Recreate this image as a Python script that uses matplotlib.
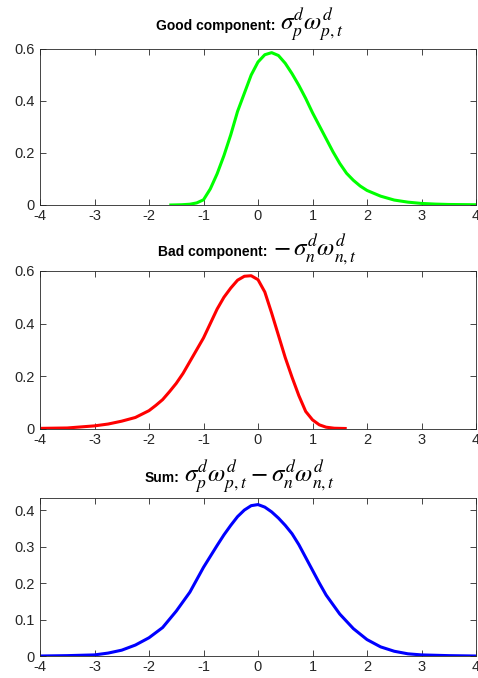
import matplotlib
matplotlib.use("Agg")
import matplotlib.pyplot as plt
from matplotlib.ticker import FuncFormatter

plt.rcParams["font.family"] = ["Liberation Sans", "DejaVu Sans"]
plt.rcParams["mathtext.fontset"] = "stix"
plt.rcParams["axes.unicode_minus"] = False

# good component (green)
x_good = [-1.6, -1.4, -1.25, -1.125, -1.0, -0.875, -0.75, -0.625, -0.5, -0.375,
          -0.25, -0.125, 0.0, 0.125, 0.25, 0.375, 0.5, 0.625, 0.75, 0.875, 1.0,
          1.125, 1.25, 1.375, 1.5, 1.625, 1.75, 1.875, 2.0, 2.25, 2.5, 2.75, 3.0,
          3.25, 3.5, 4.0]
y_good = [0.0, 0.001, 0.003, 0.008, 0.02, 0.062, 0.12, 0.19, 0.27, 0.36,
          0.43, 0.50, 0.55, 0.578, 0.586, 0.575, 0.545, 0.505, 0.46, 0.41, 0.355,
          0.305, 0.255, 0.205, 0.16, 0.122, 0.095, 0.073, 0.056, 0.034, 0.019, 0.011,
          0.006, 0.0035, 0.002, 0.001]

# bad component (red)
x_bad = [-4.0, -3.5, -3.0, -2.75, -2.5, -2.25, -2.0, -1.875, -1.75, -1.625, -1.5,
         -1.375, -1.25, -1.125, -1.0, -0.875, -0.75, -0.625, -0.5, -0.375, -0.25,
         -0.125, 0.0, 0.125, 0.25, 0.375, 0.5, 0.625, 0.75, 0.875, 1.0, 1.125,
         1.25, 1.4, 1.6]
y_bad = [0.0005, 0.002, 0.01, 0.017, 0.028, 0.042, 0.068, 0.088, 0.11, 0.14, 0.172,
         0.21, 0.255, 0.30, 0.345, 0.40, 0.455, 0.50, 0.535, 0.565, 0.58,
         0.582, 0.567, 0.52, 0.44, 0.355, 0.27, 0.195, 0.125, 0.065, 0.033, 0.014,
         0.005, 0.001, 0.0]

# sum (blue)
x_sum = [-4.0, -3.5, -3.0, -2.75, -2.5, -2.25, -2.0, -1.75, -1.5, -1.25, -1.0,
         -0.875, -0.75, -0.625, -0.5, -0.375, -0.25, -0.125, 0.0, 0.125, 0.25,
         0.375, 0.5, 0.625, 0.75, 0.875, 1.0, 1.125, 1.25, 1.5, 1.75, 2.0, 2.25,
         2.5, 2.75, 3.0, 3.5, 4.0]
y_sum = [0.0, 0.001, 0.003, 0.008, 0.016, 0.03, 0.05, 0.078, 0.123, 0.175, 0.243,
         0.273, 0.303, 0.332, 0.358, 0.382, 0.40, 0.412, 0.415, 0.408, 0.395,
         0.378, 0.358, 0.335, 0.305, 0.27, 0.235, 0.20, 0.167, 0.115, 0.075, 0.045,
         0.025, 0.013, 0.006, 0.003, 0.001, 0.0]

fig = plt.figure(figsize=(4.78, 6.78), dpi=100)

W = 478.0
H = 678.0


def make_axes(top, bottom):
    return fig.add_axes([40 / W, 1 - bottom / H, 436 / W, (bottom - top) / H])


ax1 = make_axes(49, 205)
ax2 = make_axes(271, 428.5)
ax3 = make_axes(498, 656)

ax1.plot(x_good, y_good, color="#00ff00", lw=2.2)
ax2.plot(x_bad, y_bad, color="#ff0000", lw=2.2)
ax3.plot(x_sum, y_sum, color="#0000ff", lw=2.2)

fmt = FuncFormatter(lambda v, p: "%g" % round(v, 3))

for ax, yt, ytop in [(ax1, [0, 0.2, 0.4, 0.6], 0.6),
                     (ax2, [0, 0.2, 0.4, 0.6], 0.6),
                     (ax3, [0, 0.1, 0.2, 0.3, 0.4], 0.433)]:
    ax.set_xlim(-4, 4)
    ax.set_ylim(0, ytop)
    ax.set_xticks(range(-4, 5))
    ax.set_yticks(yt)
    ax.xaxis.set_major_formatter(fmt)
    ax.yaxis.set_major_formatter(fmt)
    ax.tick_params(direction="in", top=True, right=True, length=4, width=0.6,
                   labelsize=10.5, colors="#262626")
    ax.tick_params(axis="x", pad=3)
    ax.tick_params(axis="y", pad=4)
    for s in ax.spines.values():
        s.set_color("#262626")
        s.set_linewidth(0.6)


def title(ax, split, yfrac, label, math):
    ax.text(split, yfrac, label, transform=ax.transAxes, ha="right", va="baseline",
            fontsize=10, fontweight="bold", color="black")
    ax.text(split + 0.012, yfrac, math, transform=ax.transAxes, ha="left",
            va="baseline", fontsize=18, color="black")


title(ax1, (275 - 40) / 436, 1 + 19 / 156, "Good component:",
      r"$\sigma_p^d\omega_{p,t}^d$")
title(ax2, (268 - 40) / 436, 1 + 15 / 157.5, "Bad component:",
      r"$-\,\sigma_n^d\omega_{n,t}^d$")
title(ax3, (179 - 40) / 436, 1 + 16 / 158, "Sum:",
      r"$\sigma_p^d\omega_{p,t}^d-\sigma_n^d\omega_{n,t}^d$")

plt.savefig("out.png", dpi=100)
